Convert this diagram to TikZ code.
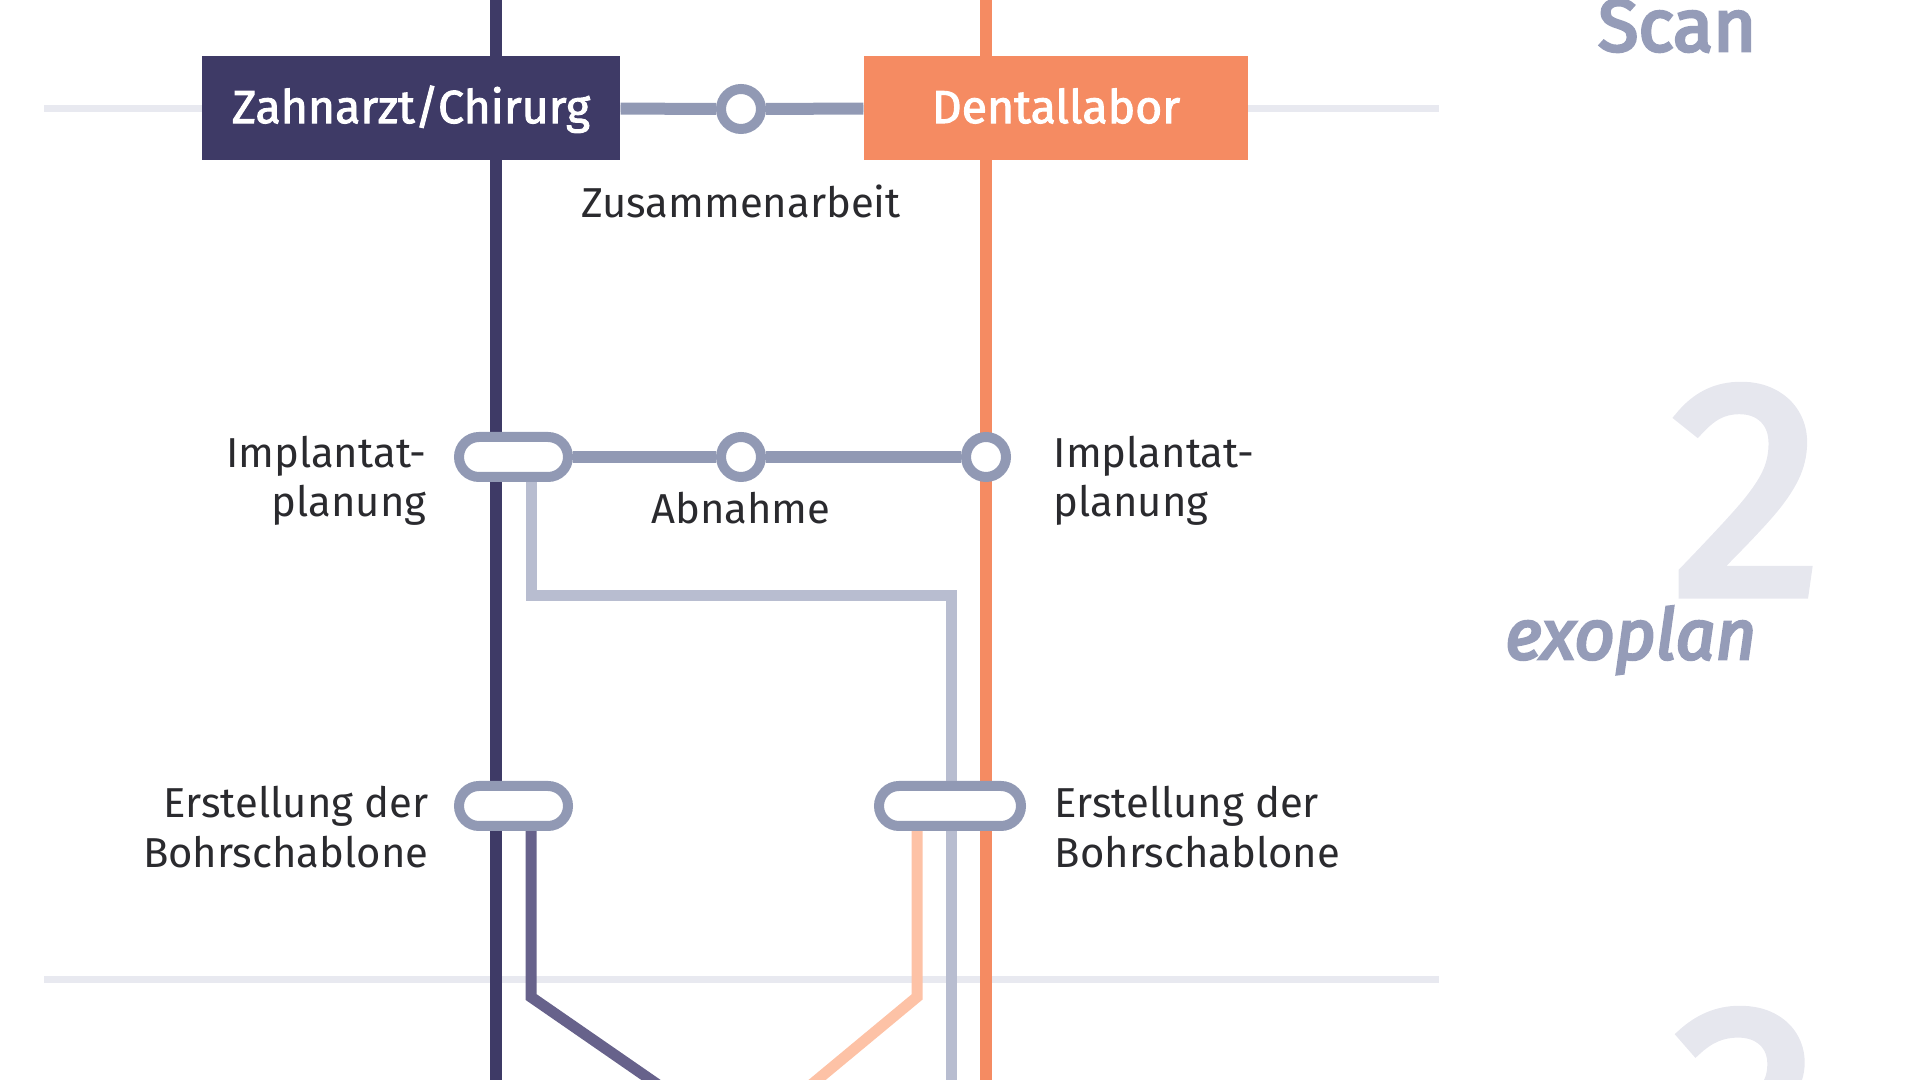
\documentclass[tikz,border=0pt]{standalone}
\usepackage{fontspec}
\setmainfont{Fira Sans}
\newfontfamily\medfont{Fira Sans}[FakeBold = 2]
\newfontfamily\stepfont{Fira Sans}[FakeBold = 4]
\newfontfamily\numfont{Fira Sans}[FakeBold = 3]
\usetikzlibrary{calc,positioning,backgrounds}
\definecolor{zahn}{HTML}{3E3A66}
\definecolor{labor}{HTML}{F58B62}
\definecolor{stopc}{HTML}{9199B4}
\definecolor{lightl}{HTML}{B8BDD0}
\definecolor{purp}{HTML}{67628B}
\definecolor{peach}{HTML}{FDC2A6}
\definecolor{faint}{HTML}{E8E9F0}
\definecolor{txt}{HTML}{2A2A2E}
\definecolor{steptx}{HTML}{959CB8}
\definecolor{bigc}{HTML}{E6E7EE}

\begin{document}
\begin{tikzpicture}[x=1cm,y=1cm]
\tikzstyle{every node} = [inner sep = 0pt];
\tikzstyle{box} = [minimum height = 1.04cm, text = white, text height = 8.6pt, text depth = 0pt, font = \fontsize{13.2}{15}\selectfont\medfont];
\tikzstyle{station} = [circle, draw = stopc, fill = white, line width = 1mm, minimum size = 4mm];
\tikzstyle{pill} = [rectangle, rounded corners = 2mm, draw = stopc, fill = white, line width = 1mm, minimum height = 4mm];
\tikzstyle{lbl} = [text = txt, font = \fontsize{11.9}{14}\selectfont];
\tikzstyle{steplbl} = [anchor = base east, text = steptx, font = \fontsize{21}{25}\selectfont\stepfont];
\tikzstyle{bignum} = [anchor = base, text = bigc, font = \fontsize{87}{87}\selectfont\numfont];
\tikzstyle{track} = [line width = 1.2mm];
\tikzstyle{conn} = [line width = 1.2mm, draw = stopc];
\useasboundingbox (0,0) rectangle (19.2,10.8);
\clip (0,0) rectangle (19.2,10.8);
% step numbers
\node[bignum] (two) at (17.47,4.86) {2};
\node[bignum] (three) at (17.47,-1.38) {3};
\node[steplbl] (scan) at (17.57,10.29) {Scan};
\node[steplbl, font = \fontsize{20}{24}\selectfont\stepfont\itshape] (exo) at (17.57,4.21) {exoplan};
% boxes
\node[box, fill = zahn, minimum width = 4.18cm] (ZA) at (4.11,9.72) {Zahnarzt/Chirurg};
\node[box, fill = labor, minimum width = 3.84cm] (DL) at (10.56,9.72) {Dentallabor};
\node[station] (collab) at (7.41,9.71) {};
\node[lbl, anchor = base] (collabtxt) at (7.41,8.62) {Zusammenarbeit};
% implantatplanung
\node[pill, minimum width = 1.09cm] (planL) at (5.135,6.23) {};
\node[station] (abn) at (7.41,6.23) {};
\node[station] (planR) at (9.86,6.23) {};
\node[lbl, anchor = base] (abntxt) at (7.41,5.56) {Abnahme};
\node[lbl, align = right, anchor = east] (planLtxt) at (4.27,5.99) {Implantat-\\planung};
\node[lbl, align = left, anchor = west] (planRtxt) at (10.53,5.99) {Implantat-\\planung};
% bohrschablone
\node[pill, minimum width = 1.09cm] (bohrL) at (5.135,2.74) {};
\node[pill, minimum width = 1.42cm] (bohrR) at (9.50,2.74) {};
\node[lbl, align = right, anchor = east] (bohrLtxt) at (4.29,2.53) {Erstellung der\\Bohrschablone};
\node[lbl, align = left, anchor = west] (bohrRtxt) at (10.54,2.53) {Erstellung der\\Bohrschablone};
\draw[conn] (ZA) -- (collab) -- (DL);
\draw[conn] (planL) -- (abn) -- (planR);
% lines
\coordinate (Ltop) at (4.96,10.9);
\coordinate (Lbot) at (4.96,-0.1);
\coordinate (Rtop) at (9.86,10.9);
\coordinate (Rbot) at (9.86,-0.1);
\coordinate (k1) at (5.31,4.84);
\coordinate (k2) at (9.51,4.84);
\coordinate (k3) at (9.51,-0.1);
\coordinate (m1) at (5.31,0.83);
\coordinate (m2) at (6.655,-0.1);
\coordinate (p1) at (9.17,0.83);
\coordinate (p2) at (8.05,-0.1);
\begin{scope}[on background layer]
\draw[faint, line width = 0.7mm] (0.44,9.71) -- (14.39,9.71) (0.44,1.00) -- (14.39,1.00);
\draw[track, zahn] (Ltop) -- (Lbot);
\draw[track, labor] (Rtop) -- (Rbot);
\draw[track, lightl, line width = 1.1mm] (planL.center -| k1) -- (k1) -- (k2) -- (k3);
\draw[track, purp, line width = 1.1mm] (bohrL.center -| m1) -- (m1) -- (m2);
\draw[track, peach, line width = 1.1mm] (bohrR.center -| p1) -- (p1) -- (p2);
\end{scope}
\end{tikzpicture}
\end{document}
